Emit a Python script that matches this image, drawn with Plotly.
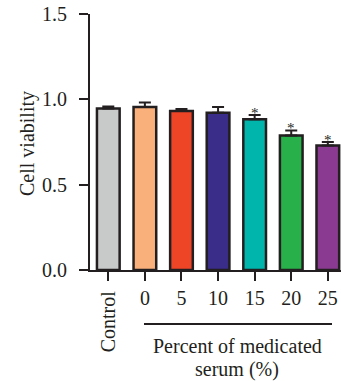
import plotly.graph_objects as go

categories = ["Control", "0", "5", "10", "15", "20", "25"]
viability = [0.946, 0.955, 0.932, 0.922, 0.883, 0.788, 0.729]
errors = [0.012, 0.027, 0.011, 0.033, 0.025, 0.030, 0.021]
significant = ["", "", "", "", "*", "*", "*"]
colors = ["#c8cac9", "#f9b07b", "#ee4527", "#3a2d8a", "#00b5ac", "#28b04a", "#8a3b91"]
y_ticks = [0.0, 0.5, 1.0, 1.5]
y_ticklabels = ["0.0", "0.5", "1.0", "1.5"]

FONT = "Liberation Serif"
FS = 20
INK = "#231f20"
W, H = 341, 381
L, R, T, B = 90, 0, 14, 111

fig = go.Figure()
fig.add_trace(go.Bar(
    x=list(range(len(categories))), y=viability,
    width=0.62,
    marker=dict(color=colors, line=dict(color=INK, width=2.5)),
    error_y=dict(type="data", array=errors, arrayminus=[0]*len(errors), symmetric=False,
                 color=INK, thickness=2, width=6),
    showlegend=False, hoverinfo="skip",
))

for i, (v, e, s) in enumerate(zip(viability, errors, significant)):
    if s:
        fig.add_annotation(x=i, y=v + e, xref="x", yref="y", text=s, showarrow=False,
                           xanchor="center", yanchor="middle", yshift=2,
                           font=dict(family=FONT, size=15, color=INK))

fig.update_layout(
    width=W, height=H,
    margin=dict(l=L, r=R, t=T, b=B, pad=0),
    paper_bgcolor="white", plot_bgcolor="white",
    font=dict(family=FONT, size=FS, color=INK),
    xaxis=dict(
        range=[-0.5, 6.36], tickmode="array",
        tickvals=list(range(len(categories))), ticktext=[""] + categories[1:],
        ticks="outside", ticklen=9, tickwidth=2, tickcolor=INK,
        showline=True, linewidth=2, linecolor=INK,
        showgrid=False, zeroline=False, tickangle=0,
        tickfont=dict(family=FONT, size=FS),
    ),
    yaxis=dict(
        range=[0, 1.5], tickmode="array", tickvals=y_ticks, ticktext=y_ticklabels,
        ticks="outside", ticklen=9, tickwidth=2, tickcolor=INK,
        showline=True, linewidth=2, linecolor=INK,
        showgrid=False, zeroline=False, ticklabelstandoff=8,
        tickfont=dict(family=FONT, size=FS),
    ),
)

pw = W - L - R
ph = H - T - B
def px2paper(px):
    return (px - L) / pw
def py2paper(py):
    return (H - B - py) / ph

# rotated "Control" label
fig.add_annotation(x=0, y=py2paper(288), xref="x", yref="paper", text=categories[0],
                   textangle=-90, showarrow=False, xanchor="center", yanchor="top",
                   font=dict(family=FONT, size=FS, color=INK))

fig.add_annotation(x=px2paper(27), y=py2paper(144), xref="paper", yref="paper",
                   text="Cell viability", textangle=-90,
                   showarrow=False, xanchor="center", yanchor="middle",
                   font=dict(family=FONT, size=FS, color=INK))

fig.add_shape(type="line", xref="paper", yref="paper",
              x0=px2paper(144), x1=px2paper(332), y0=py2paper(324), y1=py2paper(324),
              line=dict(color=INK, width=2))
fig.add_annotation(x=px2paper(237), y=py2paper(346), xref="paper", yref="paper",
                   text="Percent of medicated", showarrow=False, xanchor="center", yanchor="middle",
                   font=dict(family=FONT, size=FS, color=INK))
fig.add_annotation(x=px2paper(237), y=py2paper(369), xref="paper", yref="paper",
                   text="serum (%)", showarrow=False, xanchor="center", yanchor="middle",
                   font=dict(family=FONT, size=FS, color=INK))

fig.write_html("out.html", config={"displayModeBar": False},
               post_script="document.body.style.margin='0';document.body.style.overflow='hidden';")
